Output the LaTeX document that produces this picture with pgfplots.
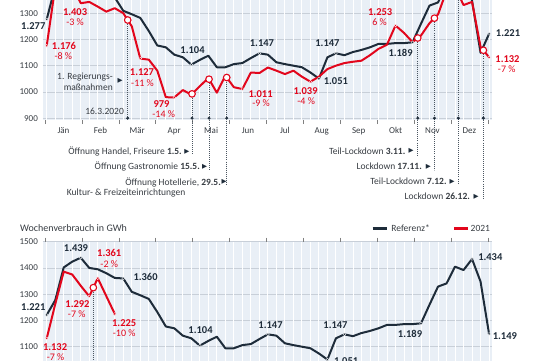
\documentclass[border=0pt]{standalone}
\usepackage{pgfplots}
\usepackage{pgfplotstable}
\pgfplotsset{compat=1.18}
\usepackage{fontspec}
\setmainfont{Carlito}
\newfontfamily\dejavu{DejaVu Sans}
\definecolor{navy}{RGB}{30,44,58}
\definecolor{myred}{RGB}{226,6,28}
\definecolor{bgblue}{RGB}{233,239,246}
\definecolor{gridgray}{RGB}{200,207,216}
\definecolor{txt}{RGB}{55,60,66}
\newcommand\tri{{\dejavu\fontsize{6.5}{6.5}\selectfont ▶}}

\pgfplotstableread{
i ref red
0 1277 1176
1 1402 1400
2 1424 1398
3 1439 1403
4 1400 1338
5 1395 1343
6 1380 1325
7 1362 1306
8 1360 1319
9 1309 1300
10 1296 1250
11 1282 1127
12 1232 1123
13 1177 1081
14 1170 980
15 1142 979
16 1132 1007
17 1104 990
18 1122 1022
19 1138 1053
20 1094 997
21 1094 1062
22 1106 1018
23 1110 1011
24 1129 1074
25 1147 1072
26 1142 1093
27 1113 1081
28 1106 1068
29 1100 1081
30 1094 1058
31 1074 1039
32 1051 1058
33 1132 1087
34 1147 1100
35 1140 1110
36 1152 1115
37 1160 1119
38 1170 1140
39 1183 1164
40 1183 1180
41 1186 1253
42 1186 1225
43 1189 1190
44 1260 1215
45 1329 1262
46 1341 1295
47 1405 1385
48 1392 1400
49 1434 1331
50 1348 1343
51 1149 1172
52 1221 1132
}\toptable

\pgfplotstableread{
i ref
0 1221
1 1277
2 1402
3 1424
4 1439
5 1400
6 1395
7 1380
8 1362
9 1360
10 1309
11 1296
12 1282
13 1232
14 1177
15 1170
16 1142
17 1132
18 1104
19 1122
20 1138
21 1094
22 1094
23 1106
24 1110
25 1129
26 1147
27 1142
28 1113
29 1106
30 1100
31 1094
32 1074
33 1051
34 1132
35 1147
36 1140
37 1152
38 1160
39 1170
40 1183
41 1183
42 1186
43 1186
44 1189
45 1260
46 1329
47 1341
48 1405
49 1392
50 1434
51 1348
52 1149
}\botref

\pgfplotstableread{
i red
0 1132
1 1262
2 1386
3 1375
4 1332
5 1292
6 1361
7 1293
8 1225
}\botred

\pgfplotsset{
  chartbase/.style={
    scale only axis, width=448.7pt, height=159.3pt,
    xmin=-0.45, xmax=52.3, ymin=893, ymax=1500,
    axis line style={draw=none},
    axis background/.style={fill=bgblue},
    ymajorgrids, grid style={gridgray, line width=0.6pt},
    major tick length=0pt, minor tick length=4pt, tick align=outside,
    xtick={1.969,6.307,10.645,14.983,19.321,23.659,27.997,32.335,36.673,41.011,45.349,49.687},
    minor xtick={-0.2,4.138,8.476,12.814,17.152,21.49,25.828,30.166,34.504,38.842,43.18,47.518,51.856},
    minor tick style={draw=gray, line width=0.5pt},
    ticklabel style={font=\fontsize{9}{10}\selectfont, text=txt},
    /pgf/number format/assume math mode=true,
    /pgf/number format/1000 sep={},
    yticklabel style={xshift=-1.5pt},
    xticklabel style={yshift=-4pt},
    clip=false,
  },
}
\tikzset{
  vb/.style={font=\fontsize{10.5}{11}\selectfont\bfseries, inner sep=0pt},
  vp/.style={font=\fontsize{10}{11}\selectfont, inner sep=0pt},
  anno/.style={font=\fontsize{9.5}{10.6}\selectfont, text=txt, inner sep=0pt},
  evline/.style={draw=navy!80, line width=0.75pt, dash pattern=on 0.75pt off 1.3pt},
}

\begin{document}
\begin{tikzpicture}
% ===================== TOP CHART =====================
\begin{axis}[chartbase, at={(42.9pt,-120pt)}, anchor=south west,
  extra y ticks={1400,1500}, extra y tick labels={},
  ytick={900,1000,...,1300},
  xticklabels={Jän,Feb,Mär,Apr,Mai,Jun,Jul,Aug,Sep,Okt,Nov,Dez}]
\pgfplotsinvokeforeach{0,...,52}{\draw[white, line width=0.9pt] (axis cs:#1,893) -- (axis cs:#1,1500);}
% event lines
\draw[evline] (axis cs:9.52,1274) -- (axis cs:9.52,893);
\draw[evline] (axis cs:17.08,992.6) -- (axis cs:17.08,760);
\draw[evline] (axis cs:19.08,1048.5) -- (axis cs:19.08,703);
\draw[evline] (axis cs:21.16,1055) -- (axis cs:21.16,646);
\draw[evline] (axis cs:43.62,1205.5) -- (axis cs:43.62,760);
\draw[evline] (axis cs:45.58,1281.1) -- (axis cs:45.58,703);
\draw[evline] (axis cs:48.39,1373.1) -- (axis cs:48.39,653);
\draw[evline] (axis cs:51.33,1158.8) -- (axis cs:51.33,589);
\addplot[only marks, mark=*, mark size=1.3pt, mark options={fill=navy, draw=navy}] coordinates {
(9.52,900) (17.08,900) (19.08,900) (21.16,900) (43.62,900) (45.58,900) (48.39,900) (51.33,900)};
% series
\addplot[navy, line width=2pt, line join=round] table[x=i,y=ref]{\toptable};
\addplot[myred, line width=2pt, line join=round] table[x=i,y=red]{\toptable};
% point dots
\addplot[only marks, mark=*, mark size=1.4pt, mark options={fill=navy, draw=white, line width=0.3pt}] coordinates {
(0,1277) (17,1104) (25,1147) (32,1051) (34,1147) (43,1189) (52,1221)};
\addplot[only marks, mark=*, mark size=1.4pt, mark options={fill=myred, draw=white, line width=0.3pt}] coordinates {
(0,1176) (3,1403) (11,1127) (15,979) (23,1011) (31,1039) (41,1253) (52,1132)};
% open circles
\addplot[only marks, mark=*, mark size=3.3pt, mark options={fill=white, draw=myred, line width=1.1pt}] coordinates {
(9.52,1274) (17.08,992.6) (19.08,1048.5) (21.16,1055) (43.62,1205.5) (45.58,1281.1) (48.39,1373.1) (51.33,1158.8)};
% value labels
\node[vb, text=navy] at (axis cs:-1.58,1251.6) {1.277};
\node[vb, text=navy] at (axis cs:17.14,1157.5) {1.104};
\node[vb, text=navy] at (axis cs:25.3,1185.7) {1.147};
\node[vb, text=navy] at (axis cs:33.99,1042) {1.051};
\node[vb, text=navy] at (axis cs:33.0,1185.7) {1.147};
\node[vb, text=navy] at (axis cs:41.6,1147.6) {1.189};
\node[vb, text=navy] at (axis cs:54.23,1223.8) {1.221};
\node[vb, text=myred] at (axis cs:2.03,1175.4) {1.176};
\node[vp, text=myred] at (axis cs:1.95,1134.7) {-8 \%};
\node[vb, text=myred] at (axis cs:3.33,1306) {1.403};
\node[vp, text=myred] at (axis cs:3.33,1265.7) {-3 \%};
\node[vb, text=myred] at (axis cs:11.2,1073.7) {1.127};
\node[vp, text=myred] at (axis cs:11.26,1033.3) {-11 \%};
\node[vb, text=myred] at (axis cs:13.5,953.3) {979};
\node[vp, text=myred] at (axis cs:13.75,915) {-14 \%};
\node[vb, text=myred] at (axis cs:25.14,991.4) {1.011};
\node[vp, text=myred] at (axis cs:25.2,957) {-9 \%};
\node[vb, text=myred] at (axis cs:30.43,1001.3) {1.039};
\node[vp, text=myred] at (axis cs:30.5,966) {-4 \%};
\node[vb, text=myred] at (axis cs:39.2,1302.3) {1.253};
\node[vp, text=myred] at (axis cs:39.13,1265.7) {6 \%};
\node[vb, text=myred] at (axis cs:54.17,1124.8) {1.132};
\node[vp, text=myred] at (axis cs:54.08,1086.7) {-7 \%};
% annotations
\node[anno, anchor=east, align=right] at (axis cs:7.79,1038) {1. Regierungs-\\maßnahmen};
\node[inner sep=0pt, text=navy] at (axis cs:8.62,1043.2) {\tri};
\node[anno, anchor=east] at (axis cs:9.09,927.8) {16.3.2020};
\node[anno, anchor=east] at (axis cs:15.9,772.8) {Öffnung Handel, Friseure \textbf{1.5.}};
\node[inner sep=0pt, text=navy] at (axis cs:16.49,772.8) {\tri};
\node[anno, anchor=east] at (axis cs:18.02,715.6) {Öffnung Gastronomie \textbf{15.5.}};
\node[inner sep=0pt, text=navy] at (axis cs:18.55,715.6) {\tri};
\node[anno, anchor=east] at (axis cs:20.49,656.2) {Öffnung Hotellerie, \textbf{29.5.}};
\node[inner sep=0pt, text=navy] at (axis cs:20.85,656.2) {\tri};
\node[anno, anchor=west] at (axis cs:2.35,614.2) {Kultur- \& Freizeiteinrichtungen};
\node[anno, anchor=east] at (axis cs:42.18,775.4) {Teil-Lockdown \textbf{3.11.}};
\node[inner sep=0pt, text=navy] at (axis cs:42.83,775.4) {\tri};
\node[anno, anchor=east] at (axis cs:44.12,715.6) {Lockdown \textbf{17.11.}};
\node[inner sep=0pt, text=navy] at (axis cs:44.86,715.6) {\tri};
\node[anno, anchor=east] at (axis cs:47.03,658.5) {Teil-Lockdown \textbf{7.12.}};
\node[inner sep=0pt, text=navy] at (axis cs:47.65,658.5) {\tri};
\node[anno, anchor=east] at (axis cs:49.77,601.3) {Lockdown \textbf{26.12.}};
\node[inner sep=0pt, text=navy] at (axis cs:50.47,601.3) {\tri};
\end{axis}

% ===================== BOTTOM CHART =====================
\begin{axis}[chartbase, at={(42.9pt,-401pt)}, anchor=south west,
  ytick={1100,1200,...,1500}, extra y ticks={900,1000}, extra y tick labels={},
  xticklabels={}]
\pgfplotsinvokeforeach{0,...,52}{\draw[white, line width=0.9pt] (axis cs:#1,893) -- (axis cs:#1,1500);}
\draw[evline] (axis cs:5.48,1325.1) -- (axis cs:5.48,893);
\addplot[navy, line width=2pt, line join=round] table[x=i,y=ref]{\botref};
\addplot[myred, line width=2pt, line join=round] table[x=i,y=red]{\botred};
\addplot[only marks, mark=*, mark size=1.4pt, mark options={fill=navy, draw=white, line width=0.3pt}] coordinates {
(0,1221) (4,1439) (9,1360) (18,1104) (26,1147) (33,1051) (35,1147) (44,1189) (50,1434) (52,1149)};
\addplot[only marks, mark=*, mark size=1.4pt, mark options={fill=myred, draw=white, line width=0.3pt}] coordinates {
(0,1132) (5,1292) (6,1361) (8,1225)};
\addplot[only marks, mark=*, mark size=3.3pt, mark options={fill=white, draw=myred, line width=1.1pt}] coordinates {(5.48,1325.1)};
\node[vb, text=navy] at (axis cs:-1.58,1252.4) {1.221};
\node[vb, text=navy] at (axis cs:3.44,1477.1) {1.439};
\node[vb, text=navy] at (axis cs:11.62,1366.7) {1.360};
\node[vb, text=navy] at (axis cs:18.08,1163.6) {1.104};
\node[vb, text=navy] at (axis cs:26.31,1182.7) {1.147};
\node[vb, text=navy] at (axis cs:33.95,1182.7) {1.147};
\node[vb, text=navy] at (axis cs:35.2,1045) {1.051};
\node[vb, text=navy] at (axis cs:42.71,1147.2) {1.189};
\node[vb, text=navy] at (axis cs:52.15,1440.6) {1.434};
\node[vb, text=navy] at (axis cs:53.86,1140.8) {1.149};
\node[vb, text=myred] at (axis cs:0.98,1100) {1.132};
\node[vp, text=myred] at (axis cs:1.04,1061.9) {-7 \%};
\node[vb, text=myred] at (axis cs:7.35,1455.8) {1.361};
\node[vp, text=myred] at (axis cs:7.35,1415) {-2 \%};
\node[vb, text=myred] at (axis cs:3.62,1262.7) {1.292};
\node[vp, text=myred] at (axis cs:3.53,1224.6) {-7 \%};
\node[vb, text=myred] at (axis cs:9.11,1189.1) {1.225};
\node[vp, text=myred] at (axis cs:9.11,1151) {-10 \%};
\end{axis}

% heading and legend of the lower chart
\node[anno, anchor=west, font=\fontsize{10}{11}\selectfont] at (20pt,-227.7pt) {Wochenverbrauch in GWh};
\draw[navy, line width=2.6pt] (372.7pt,-228.3pt) -- (386.7pt,-228.3pt);
\node[anno, anchor=west] at (391.2pt,-228.3pt) {Referenz*};
\draw[myred, line width=2.6pt] (454pt,-228.3pt) -- (468.3pt,-228.3pt);
\node[anno, anchor=west] at (470.5pt,-228.3pt) {2021};

\pgfresetboundingbox
\useasboundingbox (0pt,0pt) rectangle (540pt,-360pt);
\end{tikzpicture}
\end{document}
